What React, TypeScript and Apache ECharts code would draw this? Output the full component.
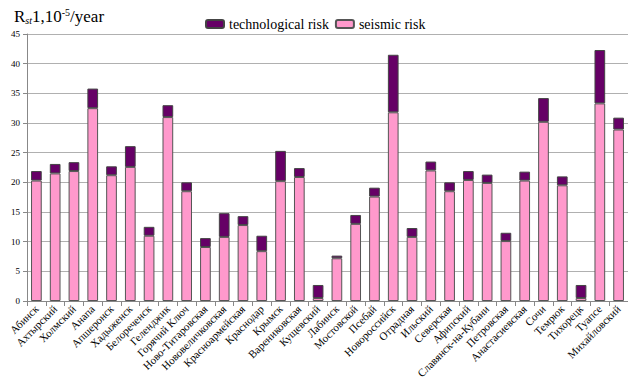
import React, { useEffect, useRef } from "react";
import * as echarts from "echarts";

const categories = [
  "Абинск", "Ахтырский", "Холмский", "Анапа", "Апшеронск", "Хадыженск", "Белореченск",
  "Геленджик", "Горячий Ключ", "Ново-Титаровская", "Нововеличковская", "Красноармейская",
  "Краснодар", "Крымск", "Варениковская", "Кущевский", "Лабинск", "Мостовской", "Псебай",
  "Новороссийск", "Отрадная", "Ильский", "Северская", "Афипский", "Славянск-на-Кубани",
  "Петровская", "Анастасиевская", "Сочи", "Темрюк", "Тихорецк", "Туапсе", "Михайловский",
];

const seismicRisk = [
  20.3, 21.5, 21.9, 32.5, 21.2, 22.6, 11.0, 31.0, 18.5, 9.1, 10.8, 12.8, 8.4, 20.2, 20.9, 0.5,
  7.2, 13.0, 17.6, 31.8, 10.8, 22.0, 18.5, 20.4, 19.9, 10.1, 20.3, 30.2, 19.5, 0.5, 33.3, 28.9,
];

const technologicalRisk = [
  1.6, 1.6, 1.5, 3.3, 1.5, 3.5, 1.5, 2.0, 1.5, 1.5, 4.0, 1.5, 2.6, 5.1, 1.5, 2.2,
  0.45, 1.5, 1.5, 9.7, 1.5, 1.5, 1.5, 1.5, 1.4, 1.4, 1.5, 4.0, 1.5, 2.2, 9.0, 2.0,
];

const yTicks = { min: 0, max: 45, interval: 5 };

const FONT = "Liberation Serif";

export default function App() {
  const ref = useRef<HTMLDivElement>(null);
  useEffect(() => {
    if (!ref.current) return;
    const chart = echarts.init(ref.current, null, { renderer: "svg" });
    chart.setOption({
      animation: false,
      backgroundColor: "#ffffff",
      textStyle: { fontFamily: FONT },
      title: {
        text: "R{sub|st}1,10{sup|-5}/year",
        left: 9,
        top: 2,
        textStyle: {
          fontFamily: FONT,
          fontSize: 17,
          fontWeight: "normal",
          color: "#000",
          rich: {
            sub: { fontFamily: FONT, fontSize: 10, fontStyle: "italic", verticalAlign: "bottom", padding: [8, 0, 0, 0], color: "#000" },
            sup: { fontFamily: FONT, fontSize: 10, verticalAlign: "top", padding: [0, 0, 6, 0], color: "#000" },
          },
        },
      },
      legend: {
        data: ["technological risk", "seismic risk"],
        left: 200,
        top: 12,
        itemWidth: 18,
        itemHeight: 8,
        itemGap: 6,
        textStyle: { fontFamily: FONT, fontSize: 14, color: "#000" },
      },
      grid: { left: 27, top: 34, width: 603, bottom: 89, containLabel: false },
      xAxis: {
        type: "category",
        data: categories,
        axisLine: { show: true, lineStyle: { color: "#888", width: 1 } },
        axisTick: { show: true, length: 5, lineStyle: { color: "#888" } },
        axisLabel: {
          interval: 0,
          rotate: 45,
          margin: 6,
          fontFamily: FONT,
          fontSize: 11,
          color: "#000",
        },
      },
      yAxis: {
        type: "value",
        min: yTicks.min,
        max: yTicks.max,
        interval: yTicks.interval,
        axisLine: { show: true, lineStyle: { color: "#888", width: 1 } },
        axisTick: { show: true, length: 4, lineStyle: { color: "#888" } },
        axisLabel: { fontFamily: FONT, fontSize: 9, color: "#000", margin: 7 },
        splitLine: { show: true, lineStyle: { color: "#b0b0b0", width: 1 } },
      },
      series: [
        {
          name: "seismic risk",
          type: "bar",
          stack: "risk",
          data: seismicRisk,
          barWidth: "57%",
          itemStyle: { color: "#ff99cc", borderColor: "#555", borderWidth: 1 },
        },
        {
          name: "technological risk",
          type: "bar",
          stack: "risk",
          data: technologicalRisk,
          barWidth: "57%",
          itemStyle: { color: "#660066", borderColor: "#444", borderWidth: 1 },
        },
      ],
    });
    return () => chart.dispose();
  }, []);
  return (
    <div
      ref={ref}
      style={{ position: "fixed", left: 0, top: 0, width: 628, height: 390 }}
    />
  );
}
